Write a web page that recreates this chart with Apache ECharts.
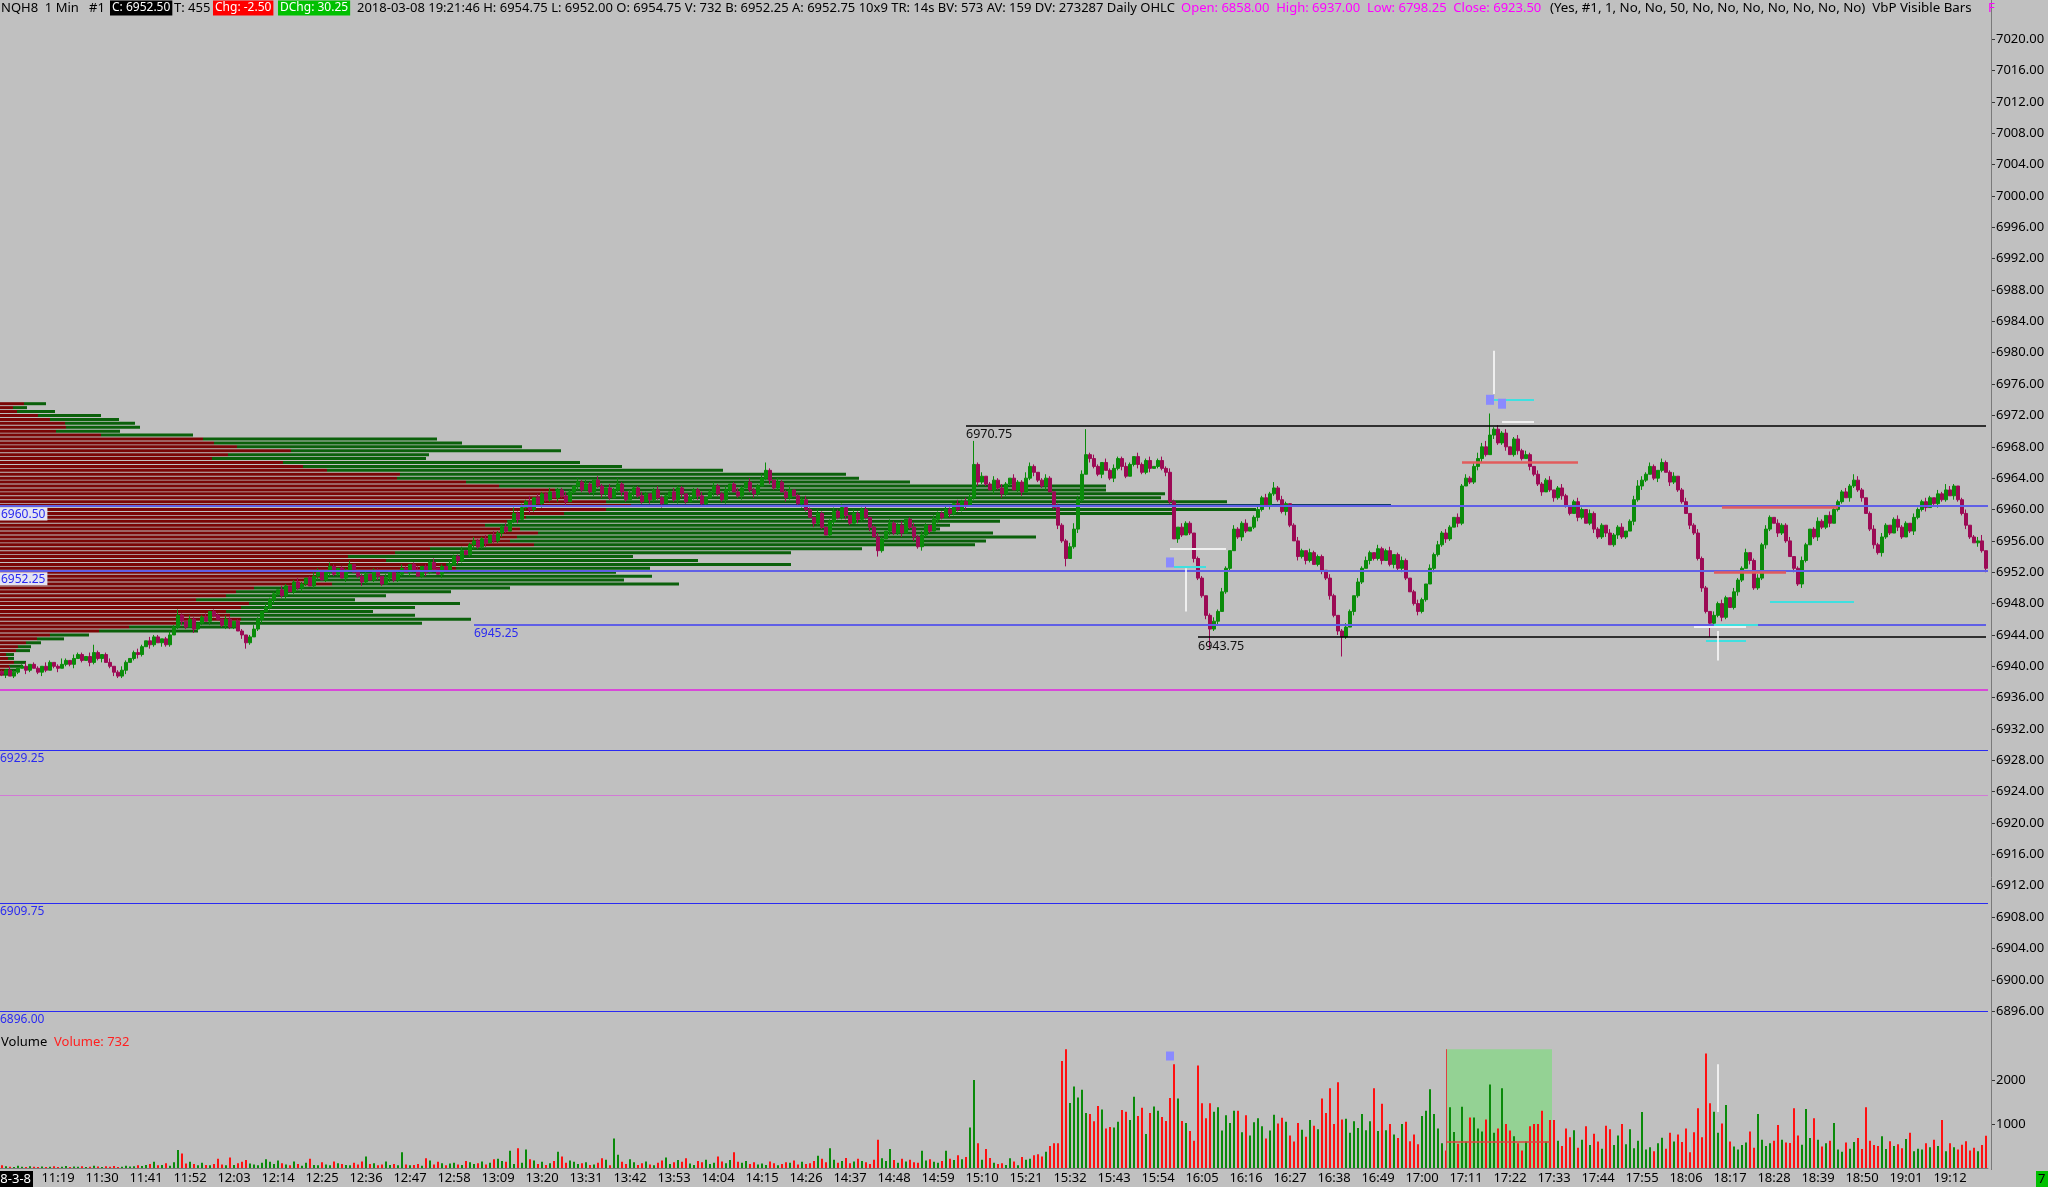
<!DOCTYPE html>
<html><head><meta charset="utf-8">
<script src="https://cdn.jsdelivr.net/npm/echarts@6/dist/echarts.min.js"></script>
<style>html,body{margin:0;padding:0;background:#c0c0c0;overflow:hidden}#c{width:2048px;height:1187px}</style>
</head><body><div id="c"></div>
<script>
// ---------------- DATA ----------------
const sessionStart = '11:05';
const tickLabels = ['11:19','11:30','11:41','11:52','12:03','12:14','12:25','12:36','12:47','12:58','13:09','13:20','13:31','13:42','13:53','14:04','14:15','14:26','14:37','14:48','14:59','15:10','15:21','15:32','15:43','15:54','16:05','16:16','16:27','16:38','16:49','17:00','17:11','17:22','17:33','17:44','17:55','18:06','18:17','18:28','18:39','18:50','19:01','19:12'];
const priceBase = 6900, tickSize = 0.25;
const firstOpenTicks = 157;
const closeTicks = [
156,158,155,157,159,160,158,161,159,157,160,158,162,160,159,161,
163,161,164,166,163,165,162,167,
164,166,162,160,157,155,158,162,
164,167,166,170,173,171,175,
172,174,171,176,180,186,
183,180,184,179,182,
185,183,188,186,184,
181,184,180,183,178,176,172,175,
179,184,188,190,194,197,
199,196,201,198,203,200,
202,205,201,206,209,204,208,211,
207,210,205,209,212,208,206,
203,207,204,209,206,202,205,208,204,
207,210,208,212,209,206,211,208,213,210,207,211,209,
212,216,214,219,217,222,224,
221,225,223,227,224,228,231,229,234,
238,235,241,244,240,246,243,248,
245,249,246,250,247,244,249,252,
254,250,253,249,255,252,248,251,246,250,253,249,245,248,251,247,
244,248,245,250,246,243,247,249,245,251,248,244,246,250,247,243,
246,249,252,248,245,250,253,249,247,251,254,250,248,252,256,260,
255,251,254,249,246,250,247,243,245,240,236,233,238,231,227,234,
239,236,241,237,233,238,235,240,236,231,226,219,225,229,233,228,
232,228,235,231,226,221,227,232,229,235,238,236,240,
238,243,240,244,242,
246,263,254,
257,253,250,255,251,248,253,256,250,254,249,
256,262,259,
255,252,256,
249,241,232,224,215,221,
230,245,258,268,266,
262,258,264,260,
256,261,266,262,257,263,
267,263,259,265,261,
262,265,261,259,
244,225,
231,227,233,228,
215,205,196,186,179,183,188,
198,210,219,
230,226,233,229,231,236,240,
246,242,248,251,245,239,243,
232,224,216,
219,214,218,212,216,209,205,
196,186,178,175,180,
188,196,203,210,214,218,
215,220,214,219,212,217,210,214,
205,198,192,188,194,
202,210,217,222,228,225,231,236,233,
252,256,254,262,266,
272,268,278,281,274,
279,272,268,276,270,266,268,262,
258,253,249,255,250,246,251,
247,242,238,244,236,240,
233,238,230,226,232,228,222,
227,231,226,229,234,
245,252,255,
258,262,256,260,264,259,254,257,
250,244,238,232,228,
215,200,188,182,
186,192,185,195,190,198,
204,210,218,214,200,205,222,
230,236,233,228,232,
224,216,210,202,214,
222,230,226,234,231,237,233,240,
244,249,246,252,255,250,246,
238,230,222,218,226,
232,228,235,231,226,233,229,236,
240,244,241,246,243,248,245,250,247,252,
245,238,232,226,223,224,219,210
];
const wickUpTicks = [
1,0,2,1,0,1,2,0,1,1, 0,2,1,0,1,3,1,0,2,1, 1,0,2,4,1,0,1,2,0,1, 2,1,0,1,2,1,0,2,1,1,
0,1,2,1,3,1,0,2,1,0, 1,2,0,1,1,0,2,1,0,1, 1,0,1,2,1,0,2,1,1,0, 2,1,0,1,2,1,0,1,2,1,
0,1,2,1,0,1,1,2,0,1, 1,2,0,1,1,0,2,1,0,1, 2,1,0,1,2,0,1,1,2,0, 1,0,2,1,1,2,0,1,2,1,
1,2,0,2,1,1,2,0,3,1, 2,1,3,0,2,1,1,2,0,1, 1,2,1,0,2,1,2,1,0,2, 1,0,2,1,3,1,0,2,1,1,
2,1,0,1,2,1,1,0,2,1, 1,0,2,1,1,2,0,1,2,1, 1,2,0,1,2,1,0,2,1,1, 2,4,1,0,2,1,1,2,0,1,
1,2,1,0,2,1,0,1,2,1, 2,1,0,2,1,1,2,0,1,2, 1,0,2,1,1,2,0,1,2,1, 2,1,0,2,1,1,2,1,0,2,
1,2,2,12,1,2,0,1,2,1, 2,1,0,2,1,1,3,2,1,0, 1,2,1,0,2,1,1,2,3,2, 2,13,1,2,1,0,2,1,2,1,
1,2,1,0,2,1,1,2,0,1, 2,1,2,1,0,2,1,1,0,1, 1,0,1,2,1,2,1,0,2,1, 1,2,0,1,2,1,2,1,3,1,
2,1,0,1,2,1,0,2,1,1, 1,0,2,1,0,1,2,1,0,2, 1,2,1,0,2,1,1,2,0,1, 2,1,0,1,2,1,0,2,1,2,
1,2,1,0,2,1,2,1,2,3, 2,3,11,1,2,1,2,0,1,2, 1,2,1,0,2,1,1,2,0,1, 2,1,0,1,2,1,0,2,1,1,
1,0,2,1,1,2,0,1,2,3, 2,1,2,1,0,2,1,1,2,0, 1,2,0,1,2,1,1,0,2,1, 2,1,0,2,1,1,2,0,1,2,
1,2,1,0,2,1,1,2,0,1, 2,1,0,1,2,1,0,2,1,1, 1,2,1,3,2,1,0,1,2,1, 2,1,0,1,2,1,1,0,2,1,
1,2,1,0,2,1,3,2,1,0, 1,2,0,1,2,3,0
];
const wickDnTicks = [
1,2,0,1,1,0,2,1,0,1, 2,1,0,1,2,0,1,1,2,0, 1,0,2,1,1,2,0,1,2,1, 1,2,0,1,2,1,0,2,1,0,
2,1,1,0,1,2,1,0,2,1, 1,0,2,1,0,1,2,1,1,0, 2,3,1,0,1,2,0,1,2,1, 1,2,0,1,1,2,1,0,1,2,
0,1,2,1,1,0,2,1,0,1, 2,1,0,1,2,1,0,2,1,1, 1,0,2,1,0,1,2,1,1,0, 2,1,1,0,2,1,0,1,2,1,
1,2,0,1,1,2,1,0,1,2, 0,1,2,1,0,2,1,1,0,2, 1,2,0,1,2,1,0,1,2,1, 2,1,1,0,1,2,1,0,2,1,
1,0,2,1,1,2,0,1,1,2, 2,1,0,1,2,1,1,0,2,1, 1,2,1,0,1,2,0,1,2,1, 0,1,2,1,1,0,2,1,0,1,
2,1,0,2,1,1,0,1,2,1, 1,2,1,0,2,1,1,2,0,3, 1,0,2,1,1,2,0,1,2,1, 2,1,1,0,2,1,0,2,1,1,
1,2,0,1,2,1,1,0,2,1, 2,1,1,0,1,2,0,1,2,1, 1,2,0,1,2,1,4,0,1,2, 1,0,2,1,1,2,0,1,2,1,
2,1,0,1,2,1,1,2,0,1, 1,2,1,0,2,1,0,1,2,1, 1,2,10,1,2,0,1,1,0,1, 2,1,0,1,2,1,0,2,1,1,
1,2,1,0,2,1,2,1,0,1, 2,1,2,1,2,10,1,0,2,1, 1,0,2,1,1,2,0,1,2,1, 2,1,0,1,2,1,1,0,2,1,
1,2,1,0,2,1,0,1,1,2, 2,1,0,2,1,1,2,0,1,2, 1,0,2,1,1,2,0,1,2,1, 2,1,1,0,2,1,0,1,2,1,
1,2,0,1,2,1,1,0,2,1, 2,1,0,1,2,1,0,2,1,1, 1,0,2,1,1,2,1,7,2,1, 2,1,0,1,2,1,0,2,1,1,
1,2,1,0,2,1,1,0,2,1, 2,1,0,1,2,1,1,2,0,1, 1,0,2,1,1,2,0,1,2,1, 2,1,1,0,2,1,0,1,2,1,
1,2,0,1,2,1,1,0,2,1, 1,2,1,0,2,1,2
];
const volumes = [
60,40,30,20,50,30,20,40,30,25, 35,20,30,40,25,30,45,20,35,30, 40,25,30,50,35,20,40,30,45,25,
30,50,35,40,60,45,70,90,140,60, 70,110,50,130,410,330,100,140,90,60, 120,70,60,90,210,80,60,240,70,110,
140,180,100,80,60,120,200,140,90,170, 110,80,60,150,90,50,120,210,70,60, 130,80,60,150,110,90,70,60,120,80,
150,260,90,110,60,80,150,70,90,60, 360,80,60,70,90,50,220,170,80,140, 110,60,100,120,80,70,160,130,90,110,
150,80,120,200,210,160,140,390,90,450, 120,420,200,170,90,140,70,110,160,370, 260,120,170,140,90,110,130,70,80,120,
220,190,60,670,300,140,90,200,130,70, 110,150,80,60,120,170,240,90,130,180, 140,220,100,70,160,130,190,90,120,260,
150,110,180,360,140,120,160,90,130,80, 100,70,150,110,60,90,130,120,170,80, 140,90,110,160,280,210,130,450,190,120,
160,230,110,150,210,160,130,90,190,640, 220,160,430,180,120,210,150,190,130,120, 390,170,200,140,120,160,390,210,180,290,
200,250,920,2000,560,190,430,230,120,90, 110,70,220,150,60,250,190,210,290,310, 260,370,500,560,560,2430,2700,1480,1850,1600,
1780,1250,1230,1060,1410,1330,900,930,920,1050, 1320,1280,1090,1620,1180,1370,770,1250,1400,1300, 1160,1070,1590,2360,1580,1070,1020,840,620,2330,
1470,1130,1470,1280,1380,850,1200,1020,1300,1300, 810,1200,740,1040,1130,950,670,850,1210,1010, 1140,1050,740,600,1020,870,710,1090,960,880,
1580,1250,1810,1000,1950,1100,1120,800,1060,910, 1230,860,1060,1810,840,1460,860,1000,760,680, 1000,1050,610,760,540,1180,1300,1790,1230,900,
560,400,1380,820,550,1390,600,1150,1150,900, 830,1100,1900,800,900,1810,1000,850,720,560, 400,600,950,1000,1000,1300,600,1090,1090,620,
500,900,700,860,460,640,950,520,780,600, 440,960,880,520,740,1000,540,880,450,620, 1270,420,470,380,560,690,440,800,600,760,
590,900,360,810,1360,700,2600,1470,1280,800, 1010,1430,600,490,420,520,580,830,460,1230, 640,500,560,620,980,640,580,570,1360,740,
530,1340,680,1130,640,490,560,620,1020,420, 370,580,440,590,680,430,1380,620,520,500, 720,430,610,500,540,450,660,800,380,440,
420,560,470,640,500,1090,380,560,470,420, 530,610,400,460,380,520,732
];
// Volume-by-price profile (visible bars), rows of 0.5 pt
const profilePrices = [6973.5,6973.0,6972.5,6972.0,6971.5,6971.0,6970.5,6970.0,6969.5,6969.0,6968.5,6968.0,6967.5,6967.0,6966.5,6966.0,6965.5,6965.0,6964.5,6964.0,6963.5,6963.0,6962.5,6962.0,6961.5,6961.0,6960.5,6960.0,6959.5,6959.0,6958.5,6958.0,6957.5,6957.0,6956.5,6956.0,6955.5,6955.0,6954.5,6954.0,6953.5,6953.0,6952.5,6952.0,6951.5,6951.0,6950.5,6950.0,6949.5,6949.0,6948.5,6948.0,6947.5,6947.0,6946.5,6946.0,6945.5,6945.0,6944.5,6944.0,6943.5,6943.0,6942.5,6942.0,6941.5,6941.0,6940.5,6940.0,6939.5,6939.0];
const profileDown = [24,13,17,38,50,65,66,56,101,203,214,237,291,228,212,283,303,327,400,397,466,499,555,561,564,606,631,606,564,526,507,485,520,538,517,510,534,430,395,348,386,446,456,319,325,309,332,254,236,226,196,249,241,226,230,241,179,129,99,50,37,26,18,16,6,8,14,9,5,3];
const profileUp = [22,14,38,63,69,70,74,64,92,234,248,285,270,201,214,297,319,396,446,462,444,607,551,604,597,621,760,650,608,533,493,465,420,455,519,476,441,432,396,285,312,345,194,297,327,315,347,256,215,160,159,211,174,147,185,230,243,108,99,39,27,15,13,14,8,6,12,14,13,7];
const pocPrice = 6960.50;
// Levels
const blueLevels = [6960.50, 6952.25, 6945.25, 6929.25, 6909.75, 6896.00];
const blueLevelFrom = [null, null, '13:03', null, null, null];
const dailyHigh = 6937.00, dailyPrevClose = 6923.50;
const sessionHigh = 6970.75, sessionHighFrom = '15:06';
const sessionLow = 6943.75, sessionLowFrom = '16:04';
const lastPrice = 6952.50, lastVolume = 732;
// annotations [from, to, price]
const cyanSegs = [['17:18','17:28',6974.0],['15:58','16:06',6952.75],['18:27','18:48',6948.25],['18:13','18:24',6945.25],['18:11','18:21',6943.25]];
const redSegs = [['17:10','17:39',6966.00],['18:15','18:44',6960.25],['18:13','18:31',6952.00]];
const whiteSegs = [['17:20','17:28',6971.25],['15:57','16:11',6955.00],['18:08','18:21',6945.00]];
const whiteVert = [['17:18',6974.75,6980.25],['16:01',6947.0,6952.5],['18:14',6940.75,6944.5]];
const squares = [['17:17',6974.0],['17:20',6973.5],['15:57',6953.25]];
const volBox = ['17:06','17:32',2700], volBoxLine = 590;
const volSquare = ['15:57',2545];
const volWhiteVert = ['18:14',1270,2360];

// ---------------- BUILD ----------------
const FONT = '"Noto Sans", "DejaVu Sans", sans-serif';
const [h0, m0] = sessionStart.split(':').map(Number);
const times = closeTicks.map((_, i) => { const t = h0 * 60 + m0 + i; return String(Math.floor(t / 60)).padStart(2, '0') + ':' + String(t % 60).padStart(2, '0'); });
const candles = []; const upFlags = [];
let prev = firstOpenTicks;
closeTicks.forEach((c, i) => {
  const o = prev;
  const hi = Math.max(o, c) + (wickUpTicks[i] || 0), lo = Math.min(o, c) - (wickDnTicks[i] || 0);
  candles.push([o, c, lo, hi].map(t => priceBase + t * tickSize));
  upFlags.push(c >= o);
  prev = c;
});
const lastT = times[times.length - 1];
const UP = '#0a8c0a', DOWN = '#9c0a55';

const ml = [];
blueLevels.forEach((p, k) => {
  const thick = k < 3;
  const ls = { color: thick ? '#5f5fe6' : '#2a2af2', width: thick ? 2 : 1, type: 'solid' };
  const lab = { show: true, position: 'insideStartBottom', distance: [0, 2], formatter: p.toFixed(2), color: '#2a2af0', fontSize: 12, fontFamily: FONT,
    backgroundColor: k < 2 ? '#e4e4f2' : 'transparent', padding: k < 2 ? [1, 2, 0, 1] : 0 };
  if (blueLevelFrom[k]) ml.push([{ coord: [blueLevelFrom[k], p], lineStyle: ls, label: lab }, { coord: [lastT, p] }]);
  else ml.push({ yAxis: p, lineStyle: ls, label: lab });
});
ml.push({ yAxis: dailyHigh, lineStyle: { color: '#e020e0', width: 1.5, type: 'solid' } });
ml.push({ yAxis: dailyPrevClose, lineStyle: { color: '#d27ad6', width: 1, type: 'solid' } });
[[sessionHighFrom, sessionHigh], [sessionLowFrom, sessionLow]].forEach(([t, p]) => {
  ml.push([{ coord: [t, p], lineStyle: { color: '#000', width: 1.5, type: 'solid' },
    label: { show: true, position: 'insideStartBottom', distance: [0, 3], formatter: p.toFixed(2), color: '#111', fontSize: 12.5, fontFamily: FONT } }, { coord: [lastT, p] }]);
});
const seg = (arr, color, w) => arr.forEach(([a, b, p]) => ml.push([{ coord: [a, p], lineStyle: { color, width: w, type: 'solid' } }, { coord: [b, p] }]));
seg(cyanSegs, '#3fe0e0', 2);
seg(redSegs, '#e25c5c', 2.5);
seg(whiteSegs, '#f0f0f0', 2);
whiteVert.forEach(([t, a, b]) => ml.push([{ coord: [t, a], lineStyle: { color: '#ffffff', width: 1.5, type: 'solid' } }, { coord: [t, b] }]));
ml.push({ yAxis: lastPrice, lineStyle: { opacity: 0 }, label: { show: true, position: 'end', distance: 5, formatter: lastPrice.toFixed(2), color: '#000', backgroundColor: '#ffffff', padding: [2, 2, 1, 2], fontSize: 13, fontFamily: FONT } });

const chart = echarts.init(document.getElementById('c'), null, { renderer: 'canvas' });
const labelShow = (idx, val) => tickLabels.indexOf(val) >= 0;
const iStart = times.indexOf(volBox[0]), iEnd = times.indexOf(volBox[1]);
chart.setOption({
  animation: false,
  backgroundColor: '#c0c0c0',
  textStyle: { fontFamily: FONT },
  grid: [{ left: 0, top: 39.2, width: 1988, height: 972 }, { left: 0, top: 1036, width: 1988, height: 132 }],
  xAxis: [
    { type: 'category', gridIndex: 0, data: times, show: false, boundaryGap: true },
    { type: 'value', gridIndex: 0, min: 0, max: 1988, show: false },
    { type: 'category', gridIndex: 1, data: times, boundaryGap: true,
      axisLine: { onZero: false, lineStyle: { color: '#7a7a7a', width: 1 } },
      axisTick: { interval: labelShow, alignWithLabel: true, length: 4, lineStyle: { color: '#555' } },
      axisLabel: { interval: labelShow, color: '#000', fontSize: 13, margin: 4, fontFamily: FONT } }
  ],
  yAxis: [
    { type: 'value', gridIndex: 0, position: 'right', offset: 3, min: 6896, max: 7020, interval: 4,
      axisLine: { show: false, onZero: false }, axisTick: { show: true, length: 4, lineStyle: { color: '#333' } },
      axisLabel: { margin: 5, color: '#000', fontSize: 13, fontFamily: FONT, formatter: v => v.toFixed(2) }, splitLine: { show: false } },
    { type: 'value', gridIndex: 1, position: 'right', offset: 3, min: 0, max: 3000, interval: 1000,
      axisLine: { show: false, onZero: false }, axisTick: { show: true, length: 4, lineStyle: { color: '#333' } },
      axisLabel: { margin: 5, color: '#000', fontSize: 13, fontFamily: FONT, showMinLabel: false, showMaxLabel: false, formatter: v => String(v) }, splitLine: { show: false } }
  ],
  series: [
    { type: 'custom', xAxisIndex: 1, yAxisIndex: 0, z: 1, silent: true,
      data: profilePrices.map((p, i) => [profileDown[i], profileUp[i], p]),
      renderItem: (params, api) => {
        const d = api.value(0), u = api.value(1), p = api.value(2);
        const s = api.coord([0, p]), m = api.coord([d, p]), e = api.coord([d + u, p]);
        const h = 3, y = s[1] - h / 2;
        const isPoc = Math.abs(p - pocPrice) < 1e-6;
        return { type: 'group', children: [
          { type: 'rect', shape: { x: s[0], y, width: m[0] - s[0], height: h }, style: { fill: '#7a0606' } },
          { type: 'rect', shape: { x: m[0], y, width: e[0] - m[0], height: h }, style: { fill: isPoc ? '#123f66' : '#0b600b' } }
        ] };
      } },
    { type: 'candlestick', xAxisIndex: 0, yAxisIndex: 0, z: 3, data: candles, barWidth: 3,
      itemStyle: { color: UP, color0: DOWN, borderColor: UP, borderColor0: DOWN, borderWidth: 1 },
      markLine: { silent: true, symbol: ['none', 'none'], animation: false, label: { show: false }, data: ml },
      markPoint: { silent: true, animation: false, label: { show: false },
        data: squares.map(([t, p]) => ({ coord: [t, p], symbol: 'rect', symbolSize: [8, 10], itemStyle: { color: '#8a8aff' } })) } },
    { type: 'custom', xAxisIndex: 2, yAxisIndex: 1, z: 1, silent: true,
      data: [[iStart, iEnd, volBox[2]]],
      renderItem: (params, api) => {
        const a = api.coord([api.value(0), 0]), b = api.coord([api.value(1), api.value(2)]);
        const w = api.size([1, 0])[0];
        return { type: 'rect', shape: { x: a[0], y: b[1], width: b[0] - a[0] + w / 2, height: a[1] - b[1] }, style: { fill: '#94d294' } };
      } },
    { type: 'bar', xAxisIndex: 2, yAxisIndex: 1, z: 2, barWidth: 2,
      data: volumes.map((v, i) => ({ value: v, itemStyle: { color: upFlags[i] ? '#0a8a0a' : '#ff1010' } })),
      markLine: { silent: true, symbol: ['none', 'none'], label: { show: false }, data: [
        [{ coord: [volBox[0], volBoxLine], lineStyle: { color: '#e04040', width: 1.5, type: 'solid' } }, { coord: [volBox[1], volBoxLine] }],
        [{ coord: [volBox[0], 0], lineStyle: { color: '#e04040', width: 1, type: 'solid' } }, { coord: [volBox[0], volBox[2]] }],
        [{ coord: [volWhiteVert[0], volWhiteVert[1]], lineStyle: { color: '#ffffff', width: 1.5, type: 'solid' } }, { coord: [volWhiteVert[0], volWhiteVert[2]] }]
      ] },
      markPoint: { silent: true, label: { show: false }, data: [{ coord: volSquare, symbol: 'rect', symbolSize: [8, 9], itemStyle: { color: '#8a8aff' } }] } }
  ],
  graphic: [
    { type: 'line', shape: { x1: 1991.5, y1: 0, x2: 1991.5, y2: 1170 }, style: { stroke: '#7a7a7a', lineWidth: 1 }, z: 10 },
    ...[
      { text: 'NQH8  1 Min   #1', x: 1, color: '#000' },
      { text: 'C: 6952.50', x: 110, color: '#fff', bg: '#000' },
      { text: 'T: 455', x: 174, color: '#000' },
      { text: 'Chg: -2.50', x: 213, color: '#fff', bg: '#ff0000' },
      { text: 'DChg: 30.25', x: 278, color: '#fff', bg: '#00c000' },
      { text: '2018-03-08 19:21:46 H: 6954.75 L: 6952.00 O: 6954.75 V: 732 B: 6952.25 A: 6952.75 10x9 TR: 14s BV: 573 AV: 159 DV: 273287 Daily OHLC', x: 357, color: '#000' },
      { text: 'Open: 6858.00  High: 6937.00  Low: 6798.25  Close: 6923.50', x: 1181, color: '#ff00ff' },
      { text: '(Yes, #1, 1, No, No, 50, No, No, No, No, No, No, No)  VbP Visible Bars', x: 1550, color: '#000', size: 13.3 },
      { text: 'F', x: 1988, color: '#ff00ff' }
    ].map(s => ({ type: 'text', x: s.x, y: 8, z: 20, style: { text: s.text, fill: s.color, font: (s.bg ? 12 : (s.size || 13)) + 'px ' + FONT, verticalAlign: 'middle',
      backgroundColor: s.bg || 'transparent', padding: s.bg ? [2, 2, 1, 2] : 0 } })),
    { type: 'text', x: 1, y: 1042, z: 20, style: { text: 'Volume', fill: '#000', font: '13px ' + FONT, verticalAlign: 'middle' } },
    { type: 'text', x: 54, y: 1042, z: 20, style: { text: 'Volume: ' + lastVolume, fill: '#ff2020', font: '13px ' + FONT, verticalAlign: 'middle' } },
    { type: 'text', x: 33, y: 1179, z: 20, style: { text: '18-3-8', fill: '#fff', align: 'right', verticalAlign: 'middle', font: '13px ' + FONT, backgroundColor: '#000', padding: [2, 2, 1, 2] } },
    { type: 'rect', shape: { x: 2036, y: 1171, width: 12, height: 16 }, style: { fill: '#00c000' }, z: 20 },
    { type: 'text', x: 2038, y: 1179, z: 21, style: { text: '7', fill: '#000', verticalAlign: 'middle', font: '13px ' + FONT } }
  ]
});
</script></body></html>
